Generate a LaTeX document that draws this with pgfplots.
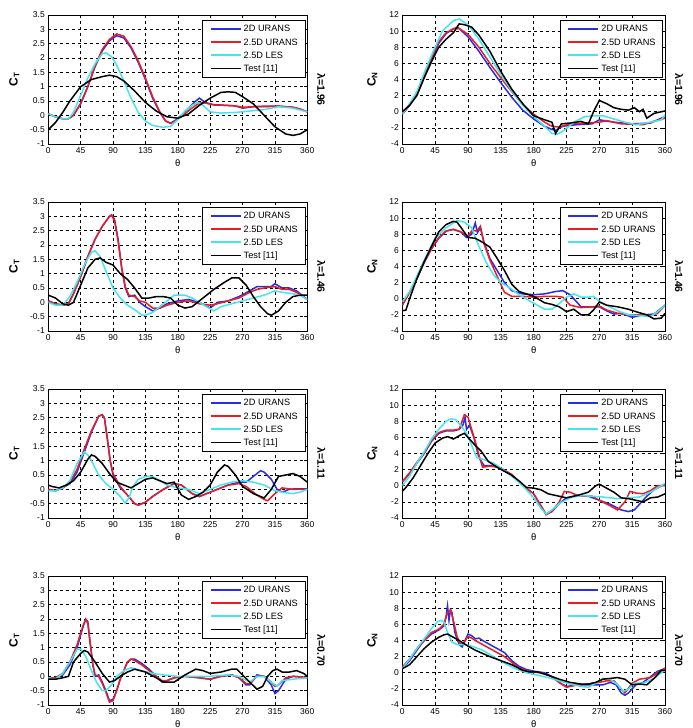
\documentclass[border=0pt]{standalone}
\usepackage{fontspec}
\setmainfont{Liberation Sans}
\usepackage{pgfplots}
\pgfplotsset{compat=1.18}
\definecolor{cblue}{RGB}{40,45,230}
\definecolor{cred}{RGB}{232,30,35}
\definecolor{ccyan}{RGB}{70,228,238}
\pgfplotsset{
 base/.style={
  scale only axis, height=129pt, xmin=0, xmax=360, xtick={0,45,...,360},
  grid=major, major grid style={black, line width=0.5pt, dash pattern=on 3pt off 3pt},
  axis line style={line width=0.8pt}, tick align=inside, major tick length=3pt,
  every tick/.style={black, line width=0.5pt},
  /pgf/number format/assume math mode=true,
  ticklabel style={font=\fontsize{8.5}{9.5}\selectfont},
  xlabel={θ}, xlabel style={font=\fontsize{9.5}{10}\selectfont, at={(axis description cs:0.5,-0.147)}, anchor=center},
  every axis plot/.append style={line width=1.5pt},
 },
 ct/.style={base, width=259pt, ymin=-1, ymax=3.5, ytick={-1,-0.5,0,0.5,1,1.5,2,2.5,3,3.5},
  ylabel={C\textsubscript{T}}, ylabel style={font=\bfseries\fontsize{12}{14}\selectfont, at={(axis description cs:-0.131,0.5)}, anchor=center}},
 cn/.style={base, width=262.7pt, ymin=-4, ymax=12, ytick={-4,-2,...,12},
  ylabel={C\textsubscript{N}}, ylabel style={font=\bfseries\fontsize{12}{14}\selectfont, at={(axis description cs:-0.114,0.5)}, anchor=center}},
}
\newcommand{\lam}[2]{\node[rotate=-90, font=\bfseries\fontsize{10.5}{12}\selectfont] at ([xshift=14pt,yshift=-10pt]#1.east) {#2};}
\newcommand{\sample}[2]{\textcolor{#1}{\rule[\dimexpr 3.2pt-#2/2\relax]{30pt}{#2}}}
\newcommand{\leg}[1]{\node[draw=black, line width=0.8pt, fill=white, anchor=north east, inner xsep=5pt, inner ysep=2pt, font=\fontsize{9.2}{13.3}\selectfont] at ([xshift=-2pt,yshift=-5pt]#1.north east) {\begin{tabular}{@{\hspace{3pt}}l@{\hspace{3pt}}l@{\hspace{2pt}}}
\sample{cblue}{2pt} & 2D URANS\\
\sample{cred}{2pt} & 2.5D URANS\\
\sample{ccyan}{2pt} & 2.5D LES\\
\sample{black}{1.6pt} & Test [11]
\end{tabular}};}
\begin{document}
\begin{tikzpicture}[x=1pt,y=1pt]
\useasboundingbox (0,0) rectangle (693,728);
% ---------------- Row 1 left: CT 1.96
\begin{axis}[ct, at={(48.3pt,584pt)}, anchor=south west, name=a1]
\addplot[cblue] coordinates {(0,0.05)(10,-0.05)(20,-0.12)(28,-0.12)(35,0)(45,0.4)(55,1.0)(65,1.7)(75,2.25)(85,2.6)(95,2.78)(105,2.7)(115,2.35)(125,1.85)(135,1.25)(145,0.6)(155,0.1)(163,-0.2)(170,-0.28)(178,-0.15)(187,0.05)(197,0.3)(205,0.5)(210,0.6)(218,0.45)(228,0.38)(245,0.35)(260,0.33)(270,0.25)(285,0.3)(300,0.3)(320,0.32)(340,0.28)(350,0.22)(360,0.12)};
\addplot[cred] coordinates {(0,0.05)(10,-0.05)(20,-0.12)(28,-0.12)(35,0)(45,0.42)(55,1.02)(65,1.72)(75,2.3)(85,2.65)(95,2.84)(105,2.76)(115,2.4)(125,1.9)(135,1.3)(145,0.65)(155,0.12)(163,-0.2)(170,-0.27)(178,-0.18)(187,0.0)(197,0.2)(205,0.35)(212,0.45)(220,0.42)(230,0.36)(245,0.35)(260,0.33)(270,0.28)(285,0.3)(300,0.32)(320,0.32)(340,0.28)(350,0.22)(360,0.12)};
\addplot[ccyan] coordinates {(0,0.05)(10,-0.05)(20,-0.12)(28,-0.12)(35,0.1)(45,0.7)(55,1.3)(65,1.8)(75,2.15)(80,2.18)(88,2.05)(95,1.75)(105,1.2)(115,0.6)(125,0.1)(135,-0.2)(145,-0.35)(160,-0.42)(170,-0.38)(180,-0.15)(190,0.15)(200,0.35)(208,0.45)(215,0.35)(225,0.12)(240,0.08)(260,0.1)(280,0.15)(300,0.2)(320,0.3)(340,0.25)(360,0.12)};
\addplot[black] coordinates {(0,-0.5)(10,-0.25)(20,0.1)(30,0.5)(45,1.0)(60,1.25)(75,1.35)(85,1.4)(95,1.35)(105,1.2)(120,0.85)(135,0.45)(150,0.15)(165,-0.05)(180,-0.1)(195,0.05)(210,0.35)(225,0.6)(240,0.8)(250,0.82)(260,0.8)(270,0.65)(285,0.4)(300,0.0)(315,-0.4)(330,-0.65)(340,-0.7)(350,-0.65)(360,-0.5)};
\end{axis}
\leg{a1}
\lam{a1}{λ=1.96}
% ---------------- Row 1 right: CN 1.96
\begin{axis}[cn, at={(402.3pt,584pt)}, anchor=south west, name=b1]
\addplot[cblue] coordinates {(0,-0.3)(10,0.8)(20,2.2)(30,4.5)(40,6.5)(50,8.5)(60,9.7)(70,10.3)(78,10.3)(90,9.3)(105,7.5)(120,5.5)(135,3.6)(150,1.8)(165,0.2)(180,-0.9)(195,-1.8)(205,-2.2)(210,-2.3)(220,-1.8)(240,-1.6)(260,-1.5)(270,-1.0)(290,-1.3)(315,-1.5)(340,-1.4)(360,-0.6)};
\addplot[cred] coordinates {(0,-0.3)(10,0.8)(20,2.3)(30,4.6)(40,6.7)(50,8.7)(60,9.8)(75,10.5)(90,9.6)(105,8.0)(120,6.0)(135,4.2)(150,2.5)(165,0.9)(180,-0.3)(195,-1.3)(205,-1.8)(215,-1.9)(230,-1.5)(250,-1.4)(270,-1.3)(280,-1.1)(300,-1.5)(330,-1.6)(360,-0.8)};
\addplot[ccyan] coordinates {(0,-0.3)(10,1.0)(20,2.5)(30,4.8)(40,7.0)(55,10.0)(70,11.3)(78,11.5)(90,10.8)(105,9.0)(120,6.8)(135,4.6)(150,2.6)(165,0.8)(180,-0.6)(195,-1.8)(205,-2.7)(212,-2.8)(222,-2.3)(235,-1.3)(250,-0.6)(265,-0.5)(275,-0.5)(290,-0.9)(305,-1.3)(320,-1.6)(340,-1.3)(355,-1.0)(360,-0.4)};
\addplot[black] coordinates {(0,0)(10,0.8)(20,2)(30,4.2)(40,6.2)(50,8.0)(60,9.0)(70,9.8)(78,10.9)(85,10.8)(95,10.5)(105,9.5)(120,7.5)(135,5.0)(150,2.8)(165,1.0)(180,-0.5)(195,-1.0)(205,-1.3)(210,-2.7)(218,-1.5)(230,-1.4)(245,-1.2)(255,-1.5)(262,0.0)(270,1.4)(280,1.0)(290,0.5)(300,0.3)(310,0.2)(318,0.5)(325,0.0)(330,0.3)(335,-0.8)(345,-0.2)(355,0.0)(360,0.1)};
\end{axis}
\leg{b1}
\lam{b1}{λ=1.96}
% ---------------- Row 2 left: CT 1.46
\begin{axis}[ct, at={(48.3pt,397pt)}, anchor=south west, name=a2]
\addplot[cblue] coordinates {(0,0.05)(10,-0.05)(20,-0.1)(28,-0.05)(35,0.3)(45,0.9)(55,1.6)(65,2.2)(75,2.65)(85,3.0)(88,3.05)(92,2.9)(97,2.2)(102,1.2)(107,0.5)(112,0.2)(120,0.25)(127,0.0)(135,-0.15)(145,-0.3)(155,-0.2)(165,-0.05)(180,0.05)(195,0.1)(210,0.0)(225,-0.2)(235,0.0)(250,0.05)(265,0.2)(280,0.4)(290,0.55)(300,0.55)(310,0.55)(315,0.65)(325,0.5)(335,0.5)(345,0.4)(360,0.1)};
\addplot[cred] coordinates {(0,0.05)(10,-0.05)(20,-0.1)(28,-0.05)(35,0.3)(45,0.9)(55,1.6)(65,2.2)(75,2.65)(85,3.0)(88,3.03)(92,2.85)(97,2.15)(102,1.2)(107,0.55)(112,0.25)(120,0.2)(127,0.05)(135,0.0)(145,-0.2)(155,-0.2)(165,-0.1)(180,0.0)(195,0.05)(210,-0.05)(225,-0.1)(235,-0.05)(250,0.05)(265,0.15)(280,0.35)(290,0.45)(300,0.5)(315,0.55)(325,0.45)(335,0.45)(345,0.35)(360,0.1)};
\addplot[ccyan] coordinates {(0,0)(10,-0.1)(20,-0.1)(30,0.2)(40,0.7)(50,1.3)(60,1.75)(65,1.8)(72,1.6)(80,1.1)(90,0.5)(100,0.15)(110,-0.1)(120,-0.25)(130,-0.45)(135,-0.45)(145,-0.35)(155,-0.15)(165,0.05)(175,0.25)(190,0.25)(200,0.15)(210,0.0)(220,-0.15)(230,-0.3)(240,-0.15)(255,-0.05)(270,0.05)(285,0.15)(300,0.25)(310,0.35)(315,0.4)(325,0.35)(340,0.3)(350,0.25)(360,0.1)};
\addplot[black] coordinates {(0,0.25)(10,0.15)(20,-0.05)(28,-0.1)(35,0.0)(45,0.6)(55,1.2)(65,1.5)(72,1.55)(80,1.4)(90,1.3)(100,1.0)(110,0.8)(120,0.5)(130,0.15)(140,0.15)(150,0.2)(160,0.2)(170,0.15)(180,-0.1)(190,-0.2)(200,-0.15)(215,0.15)(230,0.45)(245,0.7)(255,0.85)(265,0.85)(275,0.6)(285,0.2)(295,-0.15)(305,-0.4)(310,-0.45)(320,-0.3)(330,0.0)(340,0.2)(350,0.25)(360,0.25)};
\end{axis}
\leg{a2}
\lam{a2}{λ=1.46}
% ---------------- Row 2 right: CN 1.46
\begin{axis}[cn, at={(402.3pt,397pt)}, anchor=south west, name=b2]
\addplot[cblue] coordinates {(0,-0.8)(10,0.8)(20,2.5)(30,4.5)(40,6.2)(50,7.5)(60,8.4)(70,8.6)(80,8.3)(88,7.6)(95,8.0)(100,9.4)(103,8.2)(107,8.8)(112,7.0)(120,5.0)(130,3.5)(140,2.0)(150,1.0)(165,0.6)(180,0.5)(195,0.6)(210,0.9)(220,1.0)(230,0.5)(245,-1.0)(260,-1.0)(270,-1.0)(280,-1.5)(290,-1.9)(300,-1.8)(315,-2.3)(330,-2.0)(345,-1.9)(360,-0.8)};
\addplot[cred] coordinates {(0,-0.8)(10,0.8)(20,2.5)(30,4.5)(40,6.2)(50,7.6)(60,8.4)(70,8.6)(80,8.3)(90,7.8)(96,8.5)(102,8.4)(107,9.0)(112,6.8)(120,4.8)(130,2.8)(140,0.8)(150,0.3)(165,0.3)(180,0.2)(195,0.3)(210,0.3)(220,0.2)(230,-0.8)(245,-1.1)(260,-1.0)(270,-0.9)(280,-1.4)(295,-1.8)(310,-2.0)(325,-2.0)(340,-2.1)(350,-1.8)(360,-0.8)};
\addplot[ccyan] coordinates {(0,-0.4)(10,0.9)(20,2.8)(30,4.8)(45,7.5)(60,8.8)(75,9.7)(85,9.5)(95,8.8)(105,6.5)(115,4.5)(125,3.0)(135,2.0)(145,1.5)(160,0.5)(175,-0.3)(185,-0.8)(195,-1.3)(205,-1.3)(215,-0.6)(225,0.2)(235,0.6)(245,0.2)(255,0.2)(262,0.3)(270,-0.3)(280,-0.8)(295,-1.5)(310,-2.0)(325,-2.1)(340,-2.2)(350,-1.6)(360,-0.8)};
\addplot[black] coordinates {(0,-1.5)(5,-1.4)(10,0.0)(20,2.5)(30,4.6)(40,6.5)(50,8.3)(60,9.2)(70,9.6)(75,9.5)(80,8.9)(90,7.6)(100,7.5)(110,7.0)(120,6.4)(130,5.0)(140,3.5)(150,1.8)(160,0.9)(170,0.6)(180,0.3)(195,-0.5)(205,-0.7)(215,-1.0)(225,-1.6)(235,-1.3)(245,-2.0)(255,-2.0)(262,-1.4)(270,-0.4)(280,-0.8)(295,-1.0)(310,-1.3)(320,-1.6)(335,-2.0)(345,-2.5)(355,-2.4)(360,-1.8)};
\end{axis}
\leg{b2}
\lam{b2}{λ=1.46}
% ---------------- Row 3 left: CT 1.11
\begin{axis}[ct, at={(48.3pt,210pt)}, anchor=south west, name=a3]
\addplot[cblue] coordinates {(0,0.0)(10,-0.05)(20,0.05)(30,0.2)(40,0.6)(50,1.3)(60,2.0)(70,2.55)(75,2.6)(78,2.5)(82,1.8)(86,1.0)(90,0.5)(100,0.05)(110,-0.2)(120,-0.5)(125,-0.55)(135,-0.45)(145,-0.25)(160,0.0)(175,0.2)(185,0.15)(200,-0.15)(210,-0.25)(220,-0.15)(235,0.0)(250,0.15)(265,0.25)(275,0.25)(290,0.55)(295,0.65)(300,0.6)(310,0.35)(318,0.0)(325,-0.1)(335,0.0)(345,0.02)(360,0.02)};
\addplot[cred] coordinates {(0,0.0)(10,-0.05)(20,0.05)(30,0.25)(40,0.7)(50,1.4)(60,2.05)(70,2.55)(75,2.6)(78,2.48)(82,1.75)(86,1.0)(90,0.55)(100,0.1)(110,-0.2)(120,-0.5)(125,-0.55)(135,-0.45)(145,-0.25)(160,0.0)(175,0.2)(185,0.15)(200,-0.15)(210,-0.25)(220,-0.15)(235,0.0)(250,0.15)(265,0.2)(275,0.1)(290,-0.2)(300,-0.35)(305,-0.4)(315,-0.15)(325,0.05)(340,0.0)(360,0.0)};
\addplot[ccyan] coordinates {(0,-0.05)(10,-0.05)(20,0.05)(30,0.3)(40,0.9)(50,1.3)(55,1.2)(60,1.0)(70,0.5)(80,0.2)(90,0.0)(100,-0.25)(107,-0.48)(112,-0.3)(118,0.1)(125,0.35)(135,0.45)(145,0.45)(155,0.3)(165,0.15)(180,0.05)(195,0.0)(210,-0.15)(225,0.0)(240,0.15)(255,0.25)(270,0.3)(285,0.25)(300,0.15)(315,-0.05)(325,-0.1)(340,-0.15)(350,-0.1)(360,0.0)};
\addplot[black] coordinates {(0,0.15)(5,0.1)(15,0.05)(25,0.15)(35,0.3)(45,0.6)(55,1.05)(60,1.2)(65,1.15)(75,0.9)(85,0.55)(95,0.25)(105,0.15)(115,0.05)(125,0.2)(135,0.35)(145,0.4)(155,0.3)(165,0.2)(175,0.25)(185,-0.2)(195,-0.35)(205,-0.25)(215,-0.1)(225,0.15)(235,0.6)(245,0.85)(250,0.8)(260,0.5)(270,0.1)(285,-0.15)(300,-0.3)(310,0.0)(320,0.45)(330,0.5)(340,0.55)(350,0.45)(360,0.25)};
\end{axis}
\leg{a3}
\lam{a3}{λ=1.11}
% ---------------- Row 3 right: CN 1.11
\begin{axis}[cn, at={(402.3pt,210pt)}, anchor=south west, name=b3]
\addplot[cblue] coordinates {(0,0.5)(10,1.5)(20,2.8)(30,4.0)(40,5.5)(50,6.5)(60,6.8)(70,6.8)(78,7.0)(83,7.5)(86,8.5)(88,7.0)(92,7.5)(98,6.0)(105,3.5)(112,2.5)(120,2.5)(130,2.3)(140,1.8)(150,1.3)(160,0.5)(170,-0.3)(180,-1.0)(190,-2.5)(197,-3.5)(205,-3.2)(215,-2.2)(225,-1.5)(240,-1.2)(255,-1.3)(270,-1.8)(285,-2.3)(300,-3.0)(310,-3.2)(318,-3.0)(325,-2.3)(335,-1.3)(345,-0.5)(360,0.2)};
\addplot[cred] coordinates {(0,0.5)(10,1.6)(20,2.9)(30,4.1)(40,5.6)(50,6.6)(60,6.9)(70,6.9)(78,7.0)(85,8.8)(90,8.5)(95,7.0)(100,5.5)(106,3.5)(110,2.3)(118,2.4)(125,2.4)(135,2.2)(150,1.4)(160,0.5)(170,-0.3)(180,-1.0)(190,-2.5)(197,-3.6)(205,-3.2)(215,-2.0)(222,-0.7)(230,-0.8)(240,-1.2)(260,-1.3)(270,-1.8)(285,-2.5)(295,-3.0)(305,-2.0)(312,-0.7)(320,-0.9)(330,-1.0)(340,-0.6)(350,0.0)(360,0.0)};
\addplot[ccyan] coordinates {(0,0.0)(10,1.2)(20,2.8)(30,4.2)(40,5.8)(50,7.0)(60,8.0)(67,8.3)(73,8.2)(80,7.5)(88,6.5)(95,5.0)(102,3.5)(110,3.3)(125,2.8)(135,2.2)(150,1.2)(165,0.0)(180,-1.5)(190,-2.8)(197,-3.5)(205,-3.0)(215,-2.2)(230,-1.5)(245,-1.2)(260,-1.3)(275,-1.4)(295,-1.6)(310,-1.5)(325,-1.4)(340,-0.8)(355,0.0)(360,0.3)};
\addplot[black] coordinates {(0,-0.7)(5,-0.2)(15,1.0)(25,2.5)(35,4.0)(45,5.3)(55,5.9)(62,6.1)(70,5.8)(80,6.3)(85,6.5)(92,5.8)(100,5.0)(108,4.3)(118,3.0)(130,2.3)(140,1.8)(150,1.3)(160,0.6)(170,-0.2)(180,-0.3)(190,-0.5)(200,-1.0)(215,-1.3)(225,-1.5)(240,-1.2)(255,-0.8)(265,0.0)(270,0.2)(280,-0.3)(290,-0.8)(300,-1.5)(310,-1.6)(320,-1.8)(330,-2.0)(340,-1.5)(350,-1.4)(360,-1.0)};
\end{axis}
\leg{b3}
\lam{b3}{λ=1.11}
% ---------------- Row 4 left: CT 0.70
\begin{axis}[ct, at={(48.3pt,23pt)}, anchor=south west, name=a4]
\addplot[cblue] coordinates {(0,-0.05)(10,-0.05)(20,0.05)(30,0.4)(40,1.0)(48,1.7)(52,2.0)(55,1.9)(58,1.2)(62,0.4)(65,0.0)(70,0.05)(75,-0.2)(80,-0.5)(85,-0.85)(90,-0.8)(95,-0.5)(100,-0.1)(105,0.2)(110,0.5)(115,0.6)(120,0.6)(130,0.45)(140,0.25)(150,0.0)(158,-0.2)(165,-0.15)(175,-0.05)(190,0.0)(210,-0.05)(225,-0.1)(240,0.0)(255,0.05)(265,-0.05)(275,-0.3)(280,-0.3)(290,0.05)(300,0.0)(310,-0.3)(315,-0.6)(320,-0.5)(330,-0.1)(340,0.0)(350,-0.02)(360,-0.05)};
\addplot[cred] coordinates {(0,-0.05)(10,-0.05)(20,0.1)(30,0.5)(40,1.1)(48,1.75)(52,1.98)(55,1.85)(58,1.2)(62,0.4)(65,0.05)(70,0.0)(75,-0.25)(80,-0.55)(85,-0.9)(90,-0.85)(95,-0.5)(100,-0.1)(105,0.2)(110,0.5)(115,0.6)(120,0.55)(130,0.4)(140,0.2)(150,0.0)(158,-0.15)(165,-0.15)(175,-0.05)(190,0.0)(210,-0.05)(225,-0.1)(240,0.0)(255,0.05)(265,-0.05)(275,-0.25)(280,-0.25)(290,0.0)(300,0.0)(310,-0.2)(315,-0.35)(320,-0.3)(330,-0.05)(340,0.0)(350,-0.02)(360,-0.05)};
\addplot[ccyan] coordinates {(0,-0.05)(10,-0.1)(20,0.1)(30,0.5)(40,0.95)(45,0.95)(52,0.7)(60,0.2)(67,-0.2)(75,-0.5)(80,-0.5)(88,-0.3)(95,0.0)(105,0.2)(115,0.3)(130,0.2)(145,0.1)(160,0.05)(180,0.0)(200,0.0)(225,0.0)(250,0.05)(265,0.0)(280,-0.2)(290,0.0)(300,0.0)(310,-0.2)(318,-0.35)(325,-0.15)(340,-0.1)(360,-0.05)};
\addplot[black] coordinates {(0,-0.1)(10,-0.1)(20,-0.05)(28,0.0)(35,0.5)(45,0.8)(50,0.9)(55,0.85)(65,0.5)(75,0.1)(85,-0.2)(92,-0.15)(100,0.0)(110,0.15)(120,0.25)(135,0.15)(150,-0.05)(160,-0.2)(175,-0.2)(190,0.05)(205,0.25)(215,0.2)(225,0.1)(240,0.15)(255,0.25)(262,0.25)(270,0.05)(280,-0.2)(290,-0.45)(298,-0.35)(305,0.0)(312,0.2)(318,0.25)(325,0.15)(335,0.15)(345,0.2)(355,0.1)(360,0.0)};
\end{axis}
\leg{a4}
\lam{a4}{λ=0.70}
% ---------------- Row 4 right: CN 0.70
\begin{axis}[cn, at={(402.3pt,23pt)}, anchor=south west, name=b4]
\addplot[cblue] coordinates {(0,0.5)(10,1.5)(20,2.8)(30,4.0)(40,4.8)(50,5.3)(57,5.8)(60,7.0)(62,8.3)(64,6.5)(66,7.8)(68,7.5)(72,5.0)(78,3.5)(82,3.2)(86,4.0)(90,4.8)(95,4.6)(100,4.2)(105,4.3)(110,4.0)(120,3.5)(130,3.0)(140,2.5)(150,1.5)(160,0.8)(170,0.4)(180,0.2)(195,0.0)(205,-0.5)(215,-1.2)(225,-1.7)(240,-1.5)(255,-1.5)(265,-1.5)(275,-1.5)(285,-1.2)(293,-1.5)(300,-2.5)(305,-2.8)(310,-2.5)(320,-1.5)(330,-1.2)(340,-0.5)(350,0.2)(360,0.5)};
\addplot[cred] coordinates {(0,0.7)(10,1.7)(20,3.0)(30,4.0)(40,5.0)(50,5.4)(57,6.0)(62,7.5)(66,7.8)(70,6.5)(75,4.5)(80,3.5)(85,3.8)(90,4.5)(95,4.3)(100,4.0)(110,3.5)(120,3.0)(130,2.5)(140,2.0)(150,1.3)(160,0.6)(175,0.1)(190,0.0)(205,-0.5)(215,-1.2)(225,-1.8)(240,-1.5)(255,-1.4)(270,-1.2)(280,-1.0)(290,-1.0)(298,-1.8)(305,-2.5)(315,-1.3)(325,-0.8)(340,-0.6)(350,0.0)(360,0.6)};
\addplot[ccyan] coordinates {(0,0.5)(10,1.7)(20,3.0)(30,4.2)(40,5.5)(48,6.3)(53,6.5)(57,6.3)(62,5.0)(68,3.8)(75,3.5)(85,3.5)(95,3.3)(110,2.8)(125,2.0)(140,1.2)(155,0.5)(170,0.0)(185,-0.3)(200,-0.6)(215,-1.0)(230,-1.4)(245,-1.7)(255,-1.8)(265,-1.3)(275,-0.7)(285,-0.8)(295,-1.5)(303,-2.3)(310,-2.0)(318,-1.3)(330,-1.3)(345,-0.7)(355,0.0)(360,0.3)};
\addplot[black] coordinates {(0,0.5)(10,1.0)(20,2.0)(30,3.0)(40,3.8)(50,4.4)(57,4.7)(62,4.8)(68,4.5)(78,4.0)(90,3.3)(100,2.8)(110,2.4)(120,2.0)(135,1.5)(150,1.0)(165,0.3)(175,0.1)(185,0.1)(200,-0.3)(215,-0.8)(230,-1.2)(245,-1.4)(255,-1.4)(265,-1.2)(275,-0.8)(285,-0.7)(295,-0.6)(305,-0.8)(315,-1.5)(325,-1.4)(335,-1.5)(345,-0.7)(355,0.3)(360,0.3)};
\end{axis}
\leg{b4}
\lam{b4}{λ=0.70}
\end{tikzpicture}
\end{document}
